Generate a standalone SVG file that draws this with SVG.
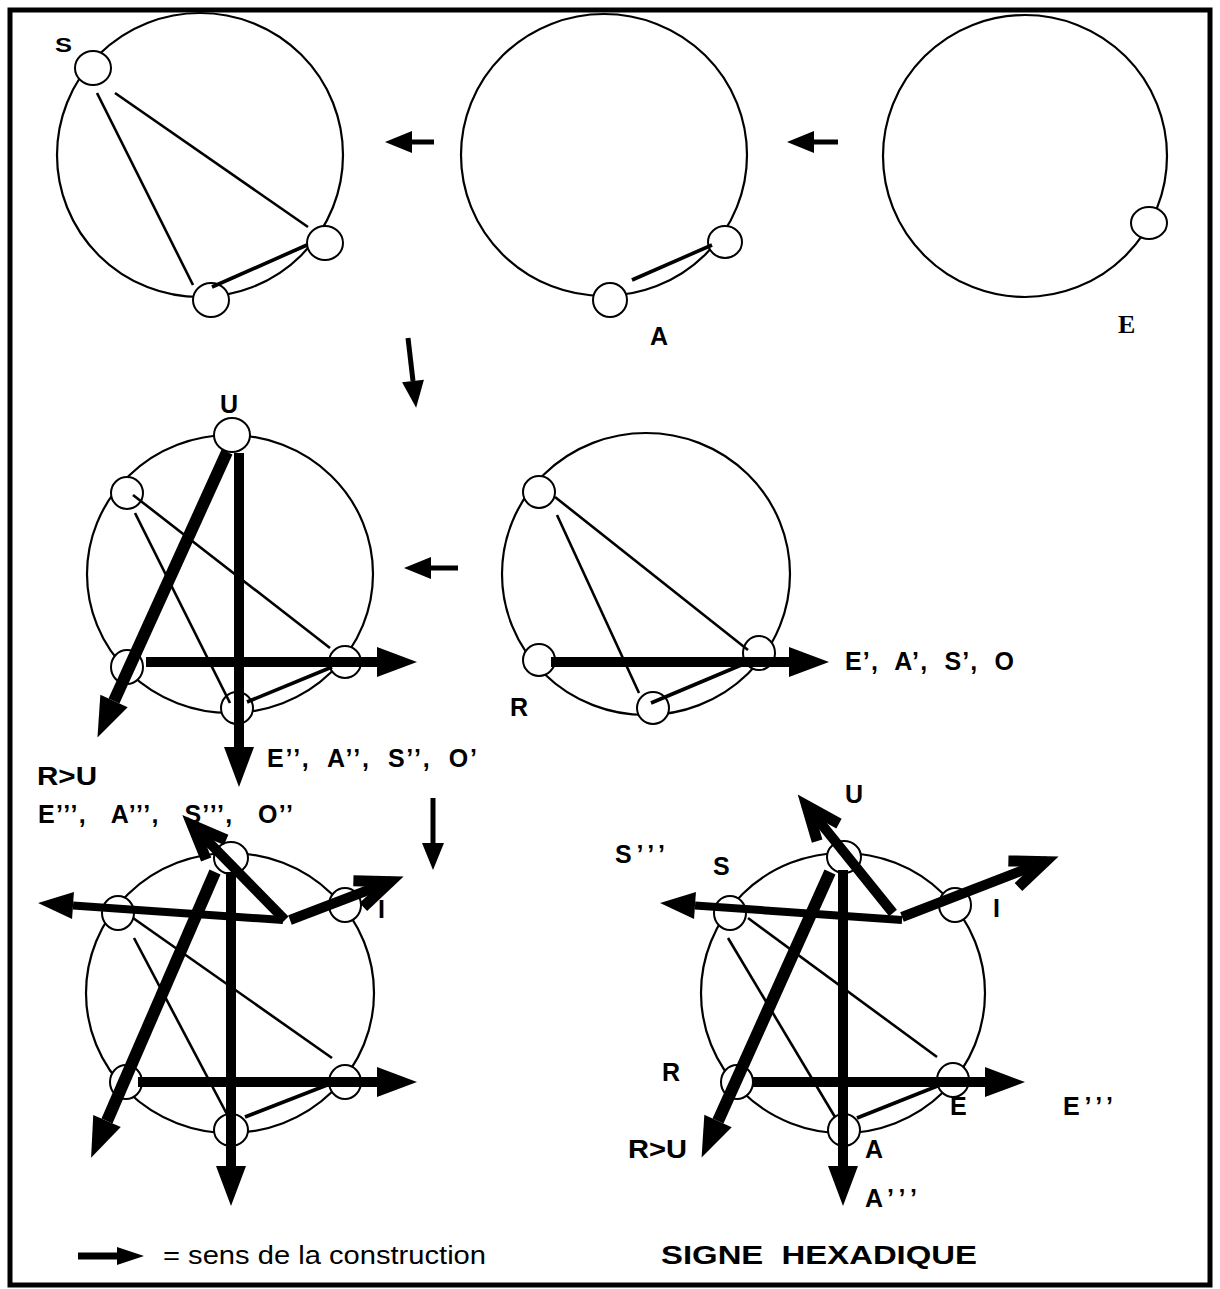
<svg xmlns="http://www.w3.org/2000/svg" width="1220" height="1289" viewBox="0 0 1220 1289">
<style>
.big{fill:none;stroke:#000;stroke-width:2.2}
.sm{fill:#fff;stroke:#000;stroke-width:2}
.ch{stroke:#000;stroke-width:2.6;fill:none}
.ch2{stroke:#000;stroke-width:3.6;fill:none}
.thick{stroke:#000;stroke-width:10;fill:none}
.thick12{stroke:#000;stroke-width:12;fill:none}
.mid{stroke:#000;stroke-width:8;fill:none}
.nav{stroke:#000;stroke-width:5;fill:none}
.lbl{font-family:"Liberation Sans",Arial,sans-serif;font-weight:bold;font-size:25px;fill:#000;white-space:pre}
.ser{font-family:"Liberation Serif","Times New Roman",serif;font-weight:bold;font-size:26px;fill:#000}
.leg{font-family:"Liberation Sans",Arial,sans-serif;font-size:25px;fill:#000;white-space:pre}
</style>
<defs>
<marker id="hL" markerUnits="userSpaceOnUse" markerWidth="1" markerHeight="1" overflow="visible" orient="auto" refX="0" refY="0"><path d="M0,-15 L40,0 L0,15 Z" fill="#000"/></marker>
<marker id="hM" markerUnits="userSpaceOnUse" markerWidth="1" markerHeight="1" overflow="visible" orient="auto" refX="0" refY="0"><path d="M0,-13.5 L35,0 L0,13.5 Z" fill="#000"/></marker>
<marker id="hS" markerUnits="userSpaceOnUse" markerWidth="1" markerHeight="1" overflow="visible" orient="auto" refX="0" refY="0"><path d="M0,-11 L27,0 L0,11 Z" fill="#000"/></marker>
<marker id="hX" markerUnits="userSpaceOnUse" markerWidth="1" markerHeight="1" overflow="visible" orient="auto" refX="0" refY="0"><path d="M0,-9 L27,0 L0,9 Z" fill="#000"/></marker>
<marker id="cV" markerUnits="userSpaceOnUse" markerWidth="1" markerHeight="1" overflow="visible" orient="auto" refX="0" refY="0"><path d="M-36,-14 L-2,0 L-36,14" fill="none" stroke="#000" stroke-width="11" stroke-linejoin="miter"/></marker>
</defs>

<rect x="10" y="10" width="1200" height="1275" fill="none" stroke="#000" stroke-width="5"/>

<!-- Figure 1 (top-left) -->
<g id="fig1">
<ellipse class="big" cx="200" cy="155" rx="143" ry="142"/>
<ellipse class="sm" cx="93" cy="68" rx="18" ry="17"/>
<ellipse class="sm" cx="325" cy="243" rx="18" ry="17"/>
<ellipse class="sm" cx="211" cy="300" rx="18" ry="17"/>
<line class="ch" x1="97" y1="93" x2="193" y2="285"/>
<line class="ch" x1="115" y1="93" x2="308" y2="227"/>
<line class="ch2" x1="212" y1="287" x2="307" y2="245"/>
<text class="lbl" x="55" y="52" style="font-size:21px" textLength="17" lengthAdjust="spacingAndGlyphs">S</text>
</g>

<!-- Figure 2 (top-middle) -->
<g id="fig2">
<ellipse class="big" cx="604" cy="155" rx="143" ry="141"/>
<ellipse class="sm" cx="610" cy="300" rx="17" ry="17"/>
<ellipse class="sm" cx="725" cy="242" rx="17" ry="16"/>
<line class="ch2" x1="632" y1="280" x2="712" y2="245"/>
<text class="lbl" x="650" y="345">A</text>
</g>

<!-- Figure 3 (top-right) -->
<g id="fig3">
<ellipse class="big" cx="1025" cy="156" rx="142" ry="141"/>
<ellipse class="sm" cx="1149" cy="223" rx="18" ry="16"/>
<text class="ser" x="1118" y="333">E</text>
</g>

<!-- Figure 4 (middle-left) -->
<g id="fig4">
<ellipse class="big" cx="230" cy="574" rx="143" ry="139"/>
<ellipse class="sm" cx="232" cy="435" rx="18" ry="17"/>
<ellipse class="sm" cx="127" cy="493" rx="16" ry="16"/>
<ellipse class="sm" cx="127" cy="667" rx="16" ry="17"/>
<ellipse class="sm" cx="345" cy="662" rx="16" ry="16"/>
<ellipse class="sm" cx="237" cy="708" rx="16" ry="16"/>
<line class="ch" x1="133" y1="495" x2="330" y2="648"/>
<line class="ch" x1="135" y1="513" x2="230" y2="703"/>
<line class="ch2" x1="247" y1="702" x2="332" y2="667"/>
<text class="lbl" x="220" y="413">U</text>
</g>

<!-- Figure 5 (middle-right) -->
<g id="fig5">
<ellipse class="big" cx="646" cy="574" rx="144" ry="141"/>
<ellipse class="sm" cx="539" cy="492" rx="16" ry="16"/>
<ellipse class="sm" cx="539" cy="660" rx="16" ry="16"/>
<ellipse class="sm" cx="759" cy="653" rx="16" ry="17"/>
<ellipse class="sm" cx="653" cy="708" rx="16" ry="16"/>
<line class="ch" x1="555" y1="497" x2="748" y2="650"/>
<line class="ch" x1="557" y1="515" x2="639" y2="693"/>
<line class="ch2" x1="651" y1="703" x2="746" y2="663"/>
<text class="lbl" x="510" y="716">R</text>
<text class="lbl" x="845" y="670" xml:space="preserve" textLength="169">E’,  A’,  S’,  O</text>
</g>

<!-- Figure 6 (bottom-left) -->
<g id="fig6">
<ellipse class="big" cx="230" cy="993" rx="144" ry="140"/>
<ellipse class="sm" cx="231" cy="858" rx="17" ry="16"/>
<ellipse class="sm" cx="118" cy="913" rx="16" ry="17"/>
<ellipse class="sm" cx="345" cy="905" rx="16" ry="17"/>
<ellipse class="sm" cx="126" cy="1082" rx="16" ry="17"/>
<ellipse class="sm" cx="345" cy="1082" rx="16" ry="17"/>
<ellipse class="sm" cx="231" cy="1130" rx="17" ry="16"/>
<line class="ch" x1="133" y1="918" x2="332" y2="1058"/>
<line class="ch" x1="134" y1="938" x2="230" y2="1120"/>
<line class="ch2" x1="245" y1="1117" x2="340" y2="1080"/>
<text class="lbl" x="378" y="918">I</text>
</g>

<!-- Figure 7 (bottom-right, signe hexadique) -->
<g id="fig7">
<ellipse class="big" cx="843" cy="993" rx="142" ry="140"/>
<ellipse class="sm" cx="844" cy="857" rx="17" ry="16"/>
<ellipse class="sm" cx="730" cy="913" rx="16" ry="17"/>
<ellipse class="sm" cx="955" cy="905" rx="16" ry="17"/>
<ellipse class="sm" cx="737" cy="1082" rx="16" ry="17"/>
<ellipse class="sm" cx="953" cy="1080" rx="16" ry="17"/>
<ellipse class="sm" cx="844" cy="1130" rx="16" ry="16"/>
<line class="ch" x1="748" y1="918" x2="937" y2="1057"/>
<line class="ch" x1="728" y1="938" x2="835" y2="1117"/>
<line class="ch2" x1="857" y1="1118" x2="945" y2="1083"/>
<text class="lbl" x="845" y="803">U</text>
<text class="lbl" x="615" y="863" textLength="50">S’’’</text>
<text class="lbl" x="713" y="875">S</text>
<text class="lbl" x="993" y="917">I</text>
<text class="lbl" x="662" y="1081">R</text>
<text class="lbl" x="950" y="1115">E</text>
<text class="lbl" x="1063" y="1115" textLength="50">E’’’</text>
<text class="lbl" x="628" y="1158" textLength="59" lengthAdjust="spacingAndGlyphs">R&gt;U</text>
<text class="lbl" x="865" y="1158">A</text>
<text class="lbl" x="865" y="1207" textLength="52">A’’’</text>
</g>

<!-- labels shared between middle-left and bottom-left figures -->
<g id="labels-left">
<text class="lbl" x="37" y="785" textLength="60" lengthAdjust="spacingAndGlyphs">R&gt;U</text>
<text class="lbl" x="267" y="767" xml:space="preserve" textLength="210">E’’,  A’’,  S’’,  O’</text>
<text class="lbl" x="38" y="823" xml:space="preserve" textLength="255">E’’’,   A’’’,   S’’’,   O’’</text>
</g>

<!-- connectors / construction arrows -->
<g id="connectors">
<line class="nav" x1="434" y1="142" x2="412" y2="142" marker-end="url(#hS)"/>
<line class="nav" x1="838" y1="142" x2="814" y2="142" marker-end="url(#hS)"/>
<line class="nav" x1="408" y1="338" x2="413" y2="381" marker-end="url(#hS)"/>
<line class="nav" x1="458" y1="568" x2="431" y2="568" marker-end="url(#hS)"/>
<line class="nav" x1="433" y1="798" x2="433" y2="843" marker-end="url(#hS)"/>

<line class="thick" x1="239" y1="453" x2="239" y2="747" marker-end="url(#hL)"/>
<line class="thick" x1="146" y1="662" x2="377" y2="662" marker-end="url(#hL)"/>
<line class="thick12" x1="227" y1="452" x2="114" y2="701" marker-end="url(#hL)"/>

<line class="thick" x1="551" y1="662" x2="789" y2="662" marker-end="url(#hL)"/>

<line class="thick" x1="231" y1="872" x2="231" y2="1166" marker-end="url(#hL)"/>
<line class="thick" x1="138" y1="1082" x2="377" y2="1082" marker-end="url(#hL)"/>
<line class="thick12" x1="215" y1="872" x2="107" y2="1121" marker-end="url(#hL)"/>
<line class="thick" x1="285" y1="920" x2="191" y2="824" marker-end="url(#cV)"/>
<line class="mid" x1="283" y1="920" x2="73" y2="905.5" marker-end="url(#hM)"/>
<line class="thick" x1="290" y1="920" x2="392" y2="881" marker-end="url(#cV)"/>

<line class="thick" x1="843" y1="870" x2="843" y2="1166" marker-end="url(#hL)"/>
<line class="thick" x1="753" y1="1082" x2="985" y2="1082" marker-end="url(#hL)"/>
<line class="thick12" x1="830" y1="872" x2="718" y2="1121" marker-end="url(#hL)"/>
<line class="thick" x1="893" y1="913" x2="805.5" y2="804.3" marker-end="url(#cV)"/>
<line class="mid" x1="902" y1="920" x2="695" y2="905.5" marker-end="url(#hM)"/>
<line class="thick" x1="902" y1="917" x2="1047" y2="861" marker-end="url(#cV)"/>
</g>

<!-- legend -->
<g id="legend">
<line stroke="#000" stroke-width="7" x1="78" y1="1256" x2="117" y2="1256" marker-end="url(#hX)"/>
<text class="leg" x="163" y="1264" textLength="323" lengthAdjust="spacingAndGlyphs">= sens de la construction</text>
<text class="lbl" x="661" y="1264" xml:space="preserve" textLength="316" lengthAdjust="spacingAndGlyphs">SIGNE  HEXADIQUE</text>
</g>
</svg>
